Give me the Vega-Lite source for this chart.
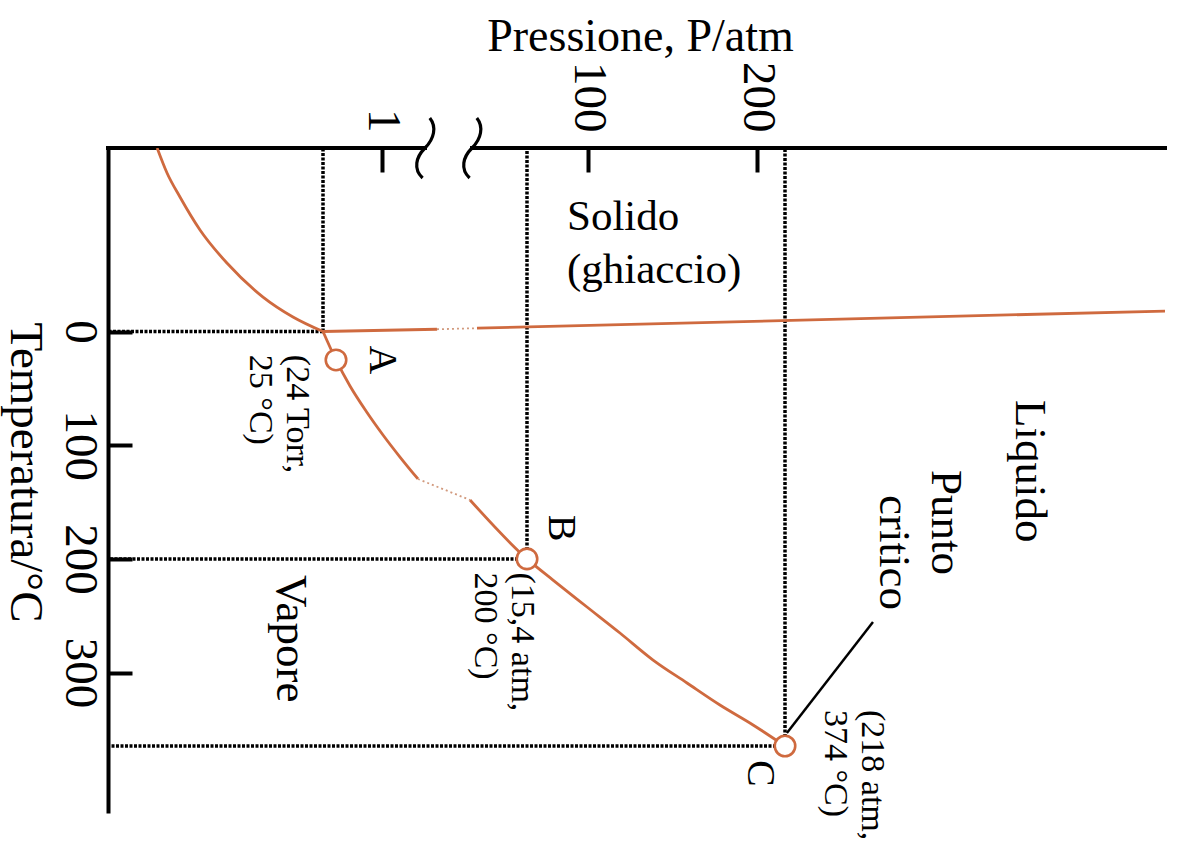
{
  "$schema": "https://vega.github.io/schema/vega-lite/v6.json",
  "width": 1057,
  "height": 665,
  "autosize": {"type": "none"},
  "padding": {"left": 108, "top": 148, "right": 16, "bottom": 32},
  "background": "white",
  "config": {"view": {"stroke": null}, "font": "Liberation Serif"},
  "datasets": {
    "curve": [
      {"curva": "sublimazione", "tratto": 1, "P": 7.3e-6, "T": -161.4},
      {"curva": "sublimazione", "tratto": 1, "P": 1.09e-5, "T": -139.4},
      {"curva": "sublimazione", "tratto": 1, "P": 1.84e-5, "T": -118.3},
      {"curva": "sublimazione", "tratto": 1, "P": 4.14e-5, "T": -89.3},
      {"curva": "sublimazione", "tratto": 1, "P": 1.23e-4, "T": -60.2},
      {"curva": "sublimazione", "tratto": 1, "P": 5.3e-4, "T": -30.3},
      {"curva": "sublimazione", "tratto": 1, "P": 1.78e-3, "T": -12.8},
      {"curva": "sublimazione", "tratto": 1, "P": 0.006, "T": 0},
      {"curva": "fusione", "tratto": 1, "P": 0.006, "T": 0},
      {"curva": "fusione", "tratto": 1, "P": 2.82, "T": -2.0},
      {"curva": "fusione", "tratto": 2, "P": 6.0, "T": -2.9},
      {"curva": "fusione", "tratto": 2, "P": 500, "T": -18.0},
      {"curva": "evaporazione", "tratto": 1, "P": 0.006, "T": 0},
      {"curva": "evaporazione", "tratto": 1, "P": 0.0316, "T": 25},
      {"curva": "evaporazione", "tratto": 1, "P": 0.0904, "T": 47.9},
      {"curva": "evaporazione", "tratto": 1, "P": 0.3006, "T": 69.9},
      {"curva": "evaporazione", "tratto": 1, "P": 1.019, "T": 91.0},
      {"curva": "evaporazione", "tratto": 1, "P": 1.404, "T": 110.4},
      {"curva": "evaporazione", "tratto": 1, "P": 1.97, "T": 129.7},
      {"curva": "evaporazione", "tratto": 2, "P": 5.26, "T": 148.2},
      {"curva": "evaporazione", "tratto": 2, "P": 15.4, "T": 200},
      {"curva": "evaporazione", "tratto": 2, "P": 34.2, "T": 218.6},
      {"curva": "evaporazione", "tratto": 2, "P": 97.0, "T": 242.3},
      {"curva": "evaporazione", "tratto": 2, "P": 114.0, "T": 265.2},
      {"curva": "evaporazione", "tratto": 2, "P": 130.6, "T": 289.0},
      {"curva": "evaporazione", "tratto": 2, "P": 150.1, "T": 310.5},
      {"curva": "evaporazione", "tratto": 2, "P": 171.8, "T": 332.7},
      {"curva": "evaporazione", "tratto": 2, "P": 196.8, "T": 352.8},
      {"curva": "evaporazione", "tratto": 2, "P": 218, "T": 374}
    ],
    "interruzioni": [
      {"curva": "fusione", "P": 2.82, "T": -2.0},
      {"curva": "fusione", "P": 6.0, "T": -2.9},
      {"curva": "evaporazione", "P": 1.97, "T": 129.7},
      {"curva": "evaporazione", "P": 5.26, "T": 148.2}
    ],
    "asse": [
      {"P": 1e-6, "P2": 2.25, "T": -161.4},
      {"P": 5.46, "P2": 500, "T": -161.4}
    ],
    "rotture": [
      {"P": 2.25, "T": -161.4},
      {"P": 5.46, "T": -161.4}
    ],
    "riferimenti": [
      {"nome": "punto triplo", "P": 0.006, "T": 0},
      {"nome": "B", "P": 15.4, "T": 200},
      {"nome": "C", "P": 218, "T": 374}
    ],
    "punti": [
      {"nome": "A", "P": 0.0316, "T": 25},
      {"nome": "B", "P": 15.4, "T": 200},
      {"nome": "C", "P": 218, "T": 374}
    ],
    "freccia": [
      {"P": 264.2, "T": 255.5},
      {"P": 218.9, "T": 360.9}
    ],
    "regioni": [
      {"testo": "Liquido", "P": 361, "T": 60.2},
      {"testo": "Vapore", "P": 9.33e-4, "T": 214.2},
      {"testo": "Punto", "P": 300.6, "T": 121.8},
      {"testo": "critico", "P": 268.4, "T": 143.8}
    ],
    "solido": [
      {"testo": "Solido\n(ghiaccio)", "P": 52.5, "T": -89.3}
    ],
    "lettere": [
      {"testo": "A", "P": 0.406, "T": 25},
      {"testo": "B", "P": 30.2, "T": 172.8},
      {"testo": "C", "P": 192.8, "T": 397.7}
    ],
    "coordinate": [
      {"testo": "(24 Torr,\n25 °C)", "P": 1.4e-3, "T": 20.5},
      {"testo": "(15,4 atm,\n200 °C)", "P": 11.6, "T": 212.0},
      {"testo": "(218 atm,\n374 °C)", "P": 258, "T": 337.7}
    ]
  },
  "encoding": {
    "x": {
      "field": "P",
      "type": "quantitative",
      "scale": {
        "type": "log",
        "domain": [1e-6, 0.006, 0.0316, 1, 15.4, 100, 200, 218, 500],
        "range": [0, 215, 228, 274, 419, 480, 649, 677, 1057],
        "nice": false,
        "zero": false
      },
      "axis": {
        "orient": "top",
        "values": [1, 100, 200],
        "format": "d",
        "domain": false,
        "grid": false,
        "tickSize": -24,
        "tickWidth": 4,
        "tickColor": "black",
        "labelAngle": 90,
        "labelAlign": "right",
        "labelBaseline": "middle",
        "labelPadding": 40,
        "labelFont": "Liberation Serif",
        "labelFontSize": 47,
        "labelColor": "black",
        "labelFlush": false,
        "labelOverlap": false,
        "title": "Pressione, P/atm",
        "titleFont": "Liberation Serif",
        "titleFontSize": 46,
        "titleFontWeight": "normal",
        "titleColor": "black",
        "titleX": 532,
        "titleY": -98,
        "titleAlign": "center",
        "titleBaseline": "alphabetic"
      }
    },
    "y": {
      "field": "T",
      "type": "quantitative",
      "scale": {
        "domain": [-161.4, 300, 374, 432],
        "range": [0, 524.6, 598, 665],
        "nice": false,
        "zero": false
      },
      "axis": {
        "orient": "left",
        "values": [0, 100, 200, 300],
        "format": "d",
        "domain": true,
        "domainWidth": 4,
        "domainColor": "black",
        "grid": false,
        "tickSize": -24,
        "tickWidth": 4,
        "tickColor": "black",
        "labelAngle": 90,
        "labelAlign": "center",
        "labelBaseline": "top",
        "labelPadding": 30,
        "labelFont": "Liberation Serif",
        "labelFontSize": 47,
        "labelColor": "black",
        "labelFlush": false,
        "labelOverlap": false,
        "title": "Temperatura/°C",
        "titleFont": "Liberation Serif",
        "titleFontSize": 47,
        "titleFontWeight": "normal",
        "titleColor": "black",
        "titleAngle": 90,
        "titleX": -98,
        "titleY": 324,
        "titleAlign": "center",
        "titleBaseline": "alphabetic"
      }
    }
  },
  "layer": [
    {
      "data": {"name": "asse"},
      "mark": {"type": "rule", "color": "black", "strokeWidth": 4, "strokeCap": "square"},
      "encoding": {"x2": {"field": "P2"}}
    },
    {
      "data": {"name": "rotture"},
      "mark": {
        "type": "point",
        "shape": "M0.16,-1 C0.4,-0.7 0.3,-0.3 0,0 C-0.3,0.3 -0.4,0.7 -0.08,1",
        "filled": false,
        "size": 3600,
        "stroke": "black",
        "strokeWidth": 3.2,
        "opacity": 1
      }
    },
    {
      "data": {"name": "riferimenti"},
      "mark": {"type": "rule", "color": "black", "strokeWidth": 3.5, "strokeDash": [3, 1.5]},
      "encoding": {"y2": {"datum": -161.4}}
    },
    {
      "data": {"name": "riferimenti"},
      "mark": {"type": "rule", "color": "black", "strokeWidth": 3.5, "strokeDash": [3, 1.5]},
      "encoding": {"x2": {"datum": 1e-6}}
    },
    {
      "data": {"name": "curve"},
      "mark": {"type": "line", "color": "#CF6A3F", "strokeWidth": 2.8, "interpolate": "monotone", "clip": true},
      "encoding": {"detail": [{"field": "curva"}, {"field": "tratto"}]}
    },
    {
      "data": {"name": "interruzioni"},
      "mark": {"type": "line", "color": "#D29A7E", "strokeWidth": 1.8, "strokeDash": [2, 3]},
      "encoding": {"detail": {"field": "curva"}}
    },
    {
      "data": {"name": "freccia"},
      "mark": {"type": "line", "color": "black", "strokeWidth": 2.5}
    },
    {
      "data": {"name": "punti"},
      "mark": {"type": "point", "shape": "circle", "filled": true, "fill": "white", "stroke": "#CF6A3F", "strokeWidth": 2.6, "size": 420, "opacity": 1}
    },
    {
      "data": {"name": "regioni"},
      "mark": {"type": "text", "angle": 90, "align": "left", "baseline": "alphabetic", "font": "Liberation Serif", "fontSize": 45, "color": "black"},
      "encoding": {"text": {"field": "testo"}}
    },
    {
      "data": {"name": "solido"},
      "mark": {"type": "text", "align": "left", "baseline": "alphabetic", "font": "Liberation Serif", "fontSize": 43, "lineHeight": 53, "lineBreak": "\n", "color": "black"},
      "encoding": {"text": {"field": "testo"}}
    },
    {
      "data": {"name": "lettere"},
      "mark": {"type": "text", "angle": 90, "align": "center", "baseline": "alphabetic", "font": "Liberation Serif", "fontSize": 40, "color": "black"},
      "encoding": {"text": {"field": "testo"}}
    },
    {
      "data": {"name": "coordinate"},
      "mark": {"type": "text", "angle": 90, "align": "left", "baseline": "alphabetic", "font": "Liberation Serif", "fontSize": 34, "lineHeight": 37, "lineBreak": "\n", "color": "black"},
      "encoding": {"text": {"field": "testo"}}
    }
  ]
}
